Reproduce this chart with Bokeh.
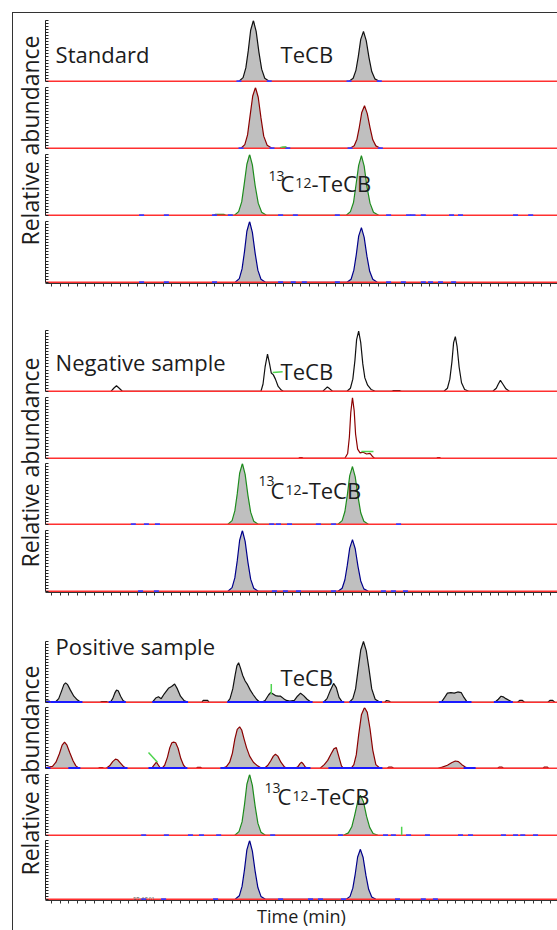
import numpy as np
from bokeh.plotting import figure
from bokeh.models import Range1d, FixedTicker, Label
from bokeh.layouts import column, row
from bokeh.embed import file_html
from bokeh.resources import INLINE

FONT = "Open Sans"
PX_PER_MIN = 34.4
T_END = 27.0

# ---------------- data (time in min, relative abundance in %) ----------------
# Standard
std1_t = [[17.74, 17.86, 17.94, 18.01, 18.08, 18.16, 18.24, 18.32, 18.40, 18.49, 18.62],
          [20.94, 21.06, 21.14, 21.21, 21.28, 21.36, 21.44, 21.52, 21.60, 21.69, 21.82]]
std1_y = [[0, 6, 22, 50, 84, 100, 82, 48, 20, 5, 0],
          [0, 5, 18, 41, 69, 82, 67, 39, 16, 4, 0]]
std1_marks = [17.74, 18.62, 20.94, 21.82]

std2_t = [[17.80, 17.91, 17.99, 18.06, 18.14, 18.22, 18.30, 18.38, 18.46, 18.56, 18.70],
          [18.92, 19.00, 19.10, 19.16],
          [20.97, 21.09, 21.17, 21.24, 21.31, 21.39, 21.47, 21.55, 21.63, 21.72, 21.85]]
std2_y = [[0, 6, 22, 52, 86, 100, 84, 50, 20, 5, 0],
          [0, 1.5, 1.5, 0],
          [0, 4, 15, 35, 59, 70, 57, 34, 14, 4, 0]]
std2_marks = [17.80, 18.70, 19.16, 20.97, 21.85]
std2_skim_t = [[18.95, 19.12]]
std2_skim_y = [[1.5, 2.5]]

std3_t = [[17.00, 17.06, 17.30, 17.36],
          [17.61, 17.73, 17.82, 17.89, 17.97, 18.05, 18.13, 18.21, 18.30, 18.40, 18.54],
          [20.86, 20.98, 21.07, 21.14, 21.22, 21.30, 21.38, 21.46, 21.55, 21.65, 21.80]]
std3_y = [[0, 1.5, 1.5, 0],
          [0, 6, 22, 50, 84, 100, 83, 49, 20, 5, 0],
          [0, 6, 21, 49, 82, 98, 81, 47, 20, 5, 0]]
std3_marks = [14.91, 15.63, 17.03, 17.49, 18.95, 19.38, 20.60, 22.09, 22.67, 22.80,
              23.10, 23.92, 24.18, 25.78, 26.22]

std4_t = [[17.63, 17.75, 17.83, 17.90, 17.97, 18.05, 18.13, 18.21, 18.29, 18.38, 18.51],
          [20.88, 21.00, 21.08, 21.15, 21.22, 21.30, 21.38, 21.46, 21.54, 21.63, 21.76]]
std4_y = [[0, 6, 22, 50, 84, 100, 82, 48, 20, 5, 0],
          [0, 5, 20, 45, 76, 90, 74, 43, 18, 5, 0]]
std4_marks = [14.91, 15.63, 17.03, 18.95, 19.32, 19.64, 20.60, 22.09, 22.52, 23.10,
              23.31, 23.60, 23.98]

# Negative sample
neg1_t = [[14.02, 14.10, 14.18, 14.26, 14.35],
          [18.38, 18.44, 18.50, 18.57, 18.63, 18.68, 18.74, 18.80, 18.88, 18.97, 19.03],
          [20.18, 20.25, 20.31, 20.38, 20.46],
          [20.88, 20.98, 21.05, 21.11, 21.16, 21.22, 21.28, 21.34, 21.40, 21.48, 21.58, 21.70],
          [22.18, 22.22, 22.42, 22.46],
          [23.70, 23.80, 23.87, 23.93, 23.98, 24.03, 24.08, 24.14, 24.21, 24.30, 24.42],
          [25.12, 25.22, 25.28, 25.34, 25.41, 25.50, 25.60]]
neg1_y = [[0, 5, 9, 5, 0],
          [0, 12, 40, 61, 45, 30, 27, 20, 8, 2, 0],
          [0, 4, 7, 4, 0],
          [0, 5, 20, 50, 85, 99, 80, 45, 22, 10, 3, 0],
          [0, 1, 1, 0],
          [0, 5, 20, 48, 80, 90, 74, 40, 14, 3, 0],
          [0, 5, 12, 18, 12, 4, 0]]
neg1_skim_t = [[18.72, 19.01]]
neg1_skim_y = [[31, 32]]

neg2_t = [[19.48, 19.50, 19.58, 19.60],
          [20.82, 20.90, 20.95, 20.99, 21.04, 21.09, 21.13, 21.19, 21.26, 21.35, 21.45, 21.55, 21.62, 21.68],
          [23.49, 23.51, 23.58, 23.60]]
neg2_y = [[0, 1, 1, 0],
          [0, 8, 35, 75, 100, 78, 40, 15, 9, 10, 7, 8, 3, 0],
          [0, 1, 1, 0]]
neg2_skim_t = [[21.30, 21.65]]
neg2_skim_y = [[11, 11]]

neg3_t = [[17.42, 17.54, 17.62, 17.69, 17.76, 17.84, 17.92, 18.00, 18.08, 18.17, 18.30],
          [20.62, 20.74, 20.82, 20.89, 20.96, 21.04, 21.12, 21.20, 21.28, 21.37, 21.50]]
neg3_y = [[0, 6, 22, 50, 84, 100, 82, 48, 20, 5, 0],
          [0, 6, 21, 48, 80, 95, 78, 46, 19, 5, 0]]
neg3_marks = [14.67, 15.05, 15.37, 18.69, 18.89, 19.21, 20.05, 20.49, 22.38]

neg4_t = [[17.42, 17.54, 17.62, 17.69, 17.76, 17.84, 17.92, 18.00, 18.08, 18.17, 18.30],
          [20.62, 20.74, 20.82, 20.89, 20.96, 21.04, 21.12, 21.20, 21.28, 21.37, 21.50]]
neg4_y = [[0, 6, 22, 50, 84, 100, 82, 48, 20, 5, 0],
          [0, 5, 19, 43, 71, 85, 70, 41, 17, 4, 0]]
neg4_marks = [14.88, 15.34, 18.77, 19.09, 19.47, 20.49, 21.94, 22.23, 22.58]

# Positive sample
pos1_t = [[12.03, 12.08, 12.22, 12.27],
          [12.40, 12.50, 12.58, 12.65, 12.70, 12.76, 12.84, 12.94, 13.04, 13.14],
          [13.70, 13.74, 13.90, 13.94],
          [14.00, 14.07, 14.13, 14.18, 14.23, 14.30, 14.37, 14.45],
          [15.22, 15.32, 15.40, 15.48, 15.57, 15.69, 15.78, 15.87, 15.95, 16.04, 16.14, 16.26],
          [16.66, 16.70, 16.83, 16.87],
          [17.40, 17.48, 17.56, 17.63, 17.68, 17.73, 17.78, 17.85, 17.92, 17.99, 18.07, 18.16, 18.25, 18.33],
          [18.40, 18.50, 18.60, 18.66, 18.72, 18.80, 18.88, 18.95, 19.04, 19.12, 19.22, 19.35, 19.44, 19.53, 19.62, 19.72, 19.82, 19.88],
          [20.20, 20.30, 20.40, 20.49, 20.57, 20.65, 20.75],
          [20.95, 21.05, 21.13, 21.20, 21.28, 21.36, 21.44, 21.52, 21.60, 21.70, 21.84],
          [21.98, 22.03, 22.10, 22.15],
          [23.62, 23.72, 23.80, 23.90, 24.00, 24.10, 24.20, 24.28, 24.38],
          [25.18, 25.28, 25.36, 25.42, 25.50, 25.60, 25.70],
          [25.84, 25.90, 25.98, 26.04],
          [26.72, 26.78, 26.86, 26.92]]
pos1_y = [[0, 2, 2, 0],
          [0, 6, 18, 29, 32, 29, 20, 10, 4, 0],
          [0, 1, 1, 0],
          [0, 6, 15, 20, 19, 10, 3, 0],
          [0, 7, 9, 6, 14, 23, 26, 30, 22, 10, 3, 0],
          [0, 3, 3, 0],
          [0, 6, 22, 45, 60, 65, 57, 44, 35, 29, 20, 12, 5, 1],
          [0, 3, 12, 16, 14, 11, 10, 10, 6, 3, 2, 3, 10, 15, 11, 5, 1, 0],
          [0, 6, 20, 31, 24, 8, 0],
          [0, 6, 22, 52, 86, 100, 85, 55, 22, 5, 0],
          [0, 3, 2, 0],
          [0, 8, 15, 16, 15, 17, 16, 8, 0],
          [0, 5, 10, 9, 6, 3, 0],
          [0, 3, 3, 0],
          [0, 3, 3, 0]]
pos1_int_start = [12.12, 12.26, 13.95, 15.22, 17.40, 18.33, 20.18, 20.95, 23.55, 25.15]
pos1_int_end = [12.26, 13.19, 14.45, 16.26, 18.33, 19.88, 20.80, 21.90, 24.50, 25.70]
pos1_skim_t = [[18.68, 18.68]]
pos1_skim_y = [[13, 30]]

pos2_t = [[12.05, 12.20, 12.32, 12.42, 12.52, 12.60, 12.67, 12.74, 12.82, 12.92, 13.00, 13.09],
          [13.64, 13.68, 13.78, 13.82],
          [13.88, 13.98, 14.07, 14.15, 14.21, 14.29, 14.38, 14.47],
          [15.20, 15.27, 15.34, 15.40, 15.46],
          [15.50, 15.58, 15.66, 15.73, 15.79, 15.84, 15.90, 15.97, 16.05, 16.13, 16.21],
          [16.50, 16.54, 16.62, 16.66],
          [17.26, 17.38, 17.47, 17.55, 17.62, 17.69, 17.76, 17.82, 17.89, 17.96, 18.05, 18.16, 18.28, 18.40],
          [18.48, 18.58, 18.66, 18.74, 18.80, 18.87, 18.96, 19.05, 19.12],
          [19.38, 19.46, 19.52, 19.56, 19.61, 19.67, 19.74],
          [20.10, 20.22, 20.32, 20.42, 20.50, 20.57, 20.64, 20.72, 20.78],
          [21.00, 21.08, 21.15, 21.22, 21.30, 21.39, 21.47, 21.55, 21.63, 21.72, 21.84],
          [22.05, 22.10, 22.18, 22.24],
          [23.52, 23.65, 23.80, 23.92, 24.03, 24.12, 24.22, 24.32, 24.40],
          [25.26, 25.31, 25.38, 25.43],
          [26.58, 26.62, 26.70, 26.74]]
pos2_y = [[0, 2, 3, 10, 24, 38, 43, 38, 26, 12, 4, 0],
          [0, 1, 1, 0],
          [0, 4, 11, 15, 14, 9, 3, 0],
          [0, 5, 10, 5, 0],
          [0, 5, 18, 34, 42, 43, 42, 33, 16, 5, 0],
          [0, 1.5, 1.5, 0],
          [0, 3, 10, 25, 48, 64, 68, 63, 48, 34, 20, 10, 4, 0],
          [0, 5, 12, 20, 23, 20, 10, 3, 0],
          [0, 3, 8, 10, 7, 2, 0],
          [0, 6, 13, 24, 32, 34, 20, 4, 0],
          [0, 6, 22, 55, 88, 100, 92, 65, 30, 6, 0],
          [0, 2, 2, 0],
          [0, 2, 5, 9, 12, 11, 6, 2, 0],
          [0, 2, 2, 0],
          [0, 2, 2, 0]]
pos2_int_start = [12.12, 12.78, 13.92, 15.11, 17.20, 20.34, 24.27]
pos2_int_end = [12.26, 13.13, 14.50, 16.24, 19.82, 21.91, 24.62]
pos2_skim_t = [[15.11, 15.37]]
pos2_skim_y = [[26, 10]]

pos3_t = [[17.62, 17.74, 17.83, 17.90, 17.97, 18.05, 18.13, 18.21, 18.29, 18.38, 18.51],
          [20.78, 20.92, 21.02, 21.10, 21.19, 21.27, 21.36, 21.45, 21.54, 21.64, 21.78]]
pos3_y = [[0, 6, 22, 50, 84, 100, 82, 48, 20, 5, 0],
          [0, 4, 14, 32, 55, 66, 55, 31, 13, 3, 0]]
pos3_marks = [14.97, 15.63, 16.33, 16.65, 17.15, 18.72, 20.69, 22.00, 22.23, 22.67,
              23.22, 24.18, 24.47, 25.43, 25.78, 25.99, 26.36]
pos3_skim_t = [[22.47, 22.47]]
pos3_skim_y = [[0, 14]]

pos4_t = [[17.63, 17.75, 17.83, 17.90, 17.97, 18.05, 18.13, 18.21, 18.29, 18.38, 18.51],
          [20.86, 20.97, 21.05, 21.12, 21.19, 21.27, 21.35, 21.43, 21.51, 21.60, 21.72]]
pos4_y = [[0, 6, 22, 50, 84, 100, 82, 48, 20, 5, 0],
          [0, 5, 19, 43, 72, 85, 71, 41, 17, 4, 0]]
pos4_marks = [14.97, 15.55, 17.06, 18.95, 19.82, 20.11, 20.78, 22.35, 23.10, 23.45]

group_titles = ["Standard", "Negative sample", "Positive sample"]
y_label = "Relative abundance"
x_label = "Time (min)"

# ---------------- styling / layout ----------------
TRACE_COLORS = ["#111111", "#8b0000", "#1e8c1e", "#00008b"]
FILL = "#bfbfbf"
BASE_RED = "#ff3030"
MARK_BLUE = "#3a3aff"
INT_BLUE = "#1a1aff"
SKIM_GREEN = "#4fd44f"
TEXT = "#1c1c1c"
FRAME_H = 62
UNITS_PER_PX = 102.0 / FRAME_H
STRIP_W = 32
TRACE_W = 512
T_START = T_END - TRACE_W / PX_PER_MIN


def flat(parts):
    return [v for part in parts for v in part]


def add_text(p, x, y, text, size="22px", align="left", baseline="alphabetic", color=TEXT):
    p.add_layout(Label(x=x, y=y, text=text, text_font=FONT, text_font_size=size,
                       text_color=color, text_align=align, text_baseline=baseline))


def make_trace(t, y, color, filled, top, bottom, xaxis, marks=None, skim=None, ints=None,
               extra_top=0):
    frame_h = FRAME_H + extra_top
    y_end = -2 + frame_h * UNITS_PER_PX
    p = figure(width=TRACE_W, height=top + frame_h + bottom, title=None,
               x_range=Range1d(T_START, T_END), y_range=Range1d(-2, y_end),
               min_border_left=0, min_border_right=0,
               min_border_top=top, min_border_bottom=bottom,
               x_axis_location="below" if xaxis else None, y_axis_location="left",
               output_backend="svg", toolbar_location=None)
    p.outline_line_color = None
    p.grid.visible = False
    p.background_fill_color = "white"
    p.border_fill_color = "white"

    yax = p.yaxis[0]
    yax.ticker = FixedTicker(ticks=[], minor_ticks=list(range(0, 101, 5)))
    yax.bounds = (0, 100)
    yax.major_label_standoff = 0
    yax.major_tick_out = 0
    yax.major_tick_in = 0
    yax.minor_tick_out = 0
    yax.minor_tick_in = 3
    yax.axis_line_color = "#222222"
    yax.minor_tick_line_color = "#222222"

    if xaxis:
        xax = p.xaxis[0]
        xax.ticker = FixedTicker(ticks=[], minor_ticks=list(np.arange(12.04, T_END, 0.25)))
        xax.major_label_standoff = 0
        xax.major_tick_out = 0
        xax.minor_tick_out = 3
        xax.minor_tick_in = 0
        xax.axis_line_color = "#333333"
        xax.minor_tick_line_color = "#333333"

    tt, yy = flat(t), flat(y)
    if filled:
        p.varea(x=tt, y1=0, y2=yy, fill_color=FILL, fill_alpha=1.0)
    p.line(tt, yy, line_color=color, line_width=1.2)
    p.hspan(y=[0], line_color=BASE_RED, line_width=1.8)
    if ints is not None:
        p.segment(x0=ints[0], y0=0, x1=ints[1], y1=0, line_color=INT_BLUE, line_width=2.5)
    if marks is not None:
        p.scatter(x=marks, y=0, marker="dash", size=5, line_color=MARK_BLUE, line_width=2)
    if skim is not None:
        p.multi_line(xs=skim[0], ys=skim[1], line_color=SKIM_GREEN, line_width=1.5)
    return p


def make_strip(h, yc):
    s = figure(width=STRIP_W, height=h, title=None, x_range=Range1d(0, STRIP_W),
               y_range=Range1d(0, h), min_border=0, x_axis_location=None,
               y_axis_location=None, output_backend="svg", toolbar_location=None)
    s.outline_line_color = None
    s.grid.visible = False
    s.background_fill_color = "white"
    s.border_fill_color = "white"
    s.add_layout(Label(x=16, y=yc, text=y_label, angle=90, angle_units="deg",
                       text_align="center", text_baseline="middle", text_font=FONT,
                       text_font_size="23px", text_color=TEXT))
    return s


def add_ic(p, x13, xC, x12, xT, y13, yC):
    add_text(p, x13, y13, "13", size="14px")
    add_text(p, xC, yC, "C")
    add_text(p, x12, yC, "12", size="14px")
    add_text(p, xT, yC, "-TeCB")


C = TRACE_COLORS
# Standard group
s1 = make_trace(std1_t, std1_y, C[0], True, 7, 0, False, marks=std1_marks)
add_text(s1, 12.41, 44.1, group_titles[0])
add_text(s1, 18.95, 44.1, "TeCB")
s2 = make_trace(std2_t, std2_y, C[1], True, 5, 0, False, marks=std2_marks,
                skim=(std2_skim_t, std2_skim_y))
s3 = make_trace(std3_t, std3_y, C[2], True, 5, 0, False, marks=std3_marks)
add_ic(s3, 18.60, 18.95, 19.38, 19.85, 65.4, 52.3)
s4 = make_trace(std4_t, std4_y, C[3], True, 5, 8, True, marks=std4_marks)
g1 = row(make_strip(278, 151), column(s1, s2, s3, s4))

# Negative group
n1 = make_trace(neg1_t, neg1_y, C[0], False, 39, 0, False, skim=(neg1_skim_t, neg1_skim_y))
add_text(n1, 12.41, 49.0, group_titles[1])
add_text(n1, 18.95, 33.4, "TeCB")
n2 = make_trace(neg2_t, neg2_y, C[1], False, 5, 0, False, skim=(neg2_skim_t, neg2_skim_y))
n3 = make_trace(neg3_t, neg3_y, C[2], True, 4, 0, False, marks=neg3_marks)
add_ic(n3, 18.31, 18.66, 19.09, 19.56, 70.4, 57.2)
n4 = make_trace(neg4_t, neg4_y, C[3], True, 5, 8, True, marks=neg4_marks)
g2 = row(make_strip(309, 138), column(n1, n2, n3, n4))

# Positive group
p1 = make_trace(pos1_t, pos1_y, C[0], True, 2, 0, False, extra_top=39,
                ints=(pos1_int_start, pos1_int_end), skim=(pos1_skim_t, pos1_skim_y))
add_text(p1, 12.41, 93.4, group_titles[2])
add_text(p1, 18.95, 40.8, "TeCB")
p2 = make_trace(pos2_t, pos2_y, C[1], True, 4, 0, False,
                ints=(pos2_int_start, pos2_int_end), skim=(pos2_skim_t, pos2_skim_y))
p3 = make_trace(pos3_t, pos3_y, C[2], True, 5, 0, False, marks=pos3_marks,
                skim=(pos3_skim_t, pos3_skim_y))
add_ic(p3, 18.48, 18.86, 19.30, 19.80, 78.6, 65.4)
p4 = make_trace(pos4_t, pos4_y, C[3], True, 4, 28, True, marks=pos4_marks)
add_text(p4, 14.67, 1.3, "RT: 17.01", size="5px", color="#555555")
xa = p4.xaxis[0]
xa.axis_label = x_label
xa.axis_label_text_font = FONT
xa.axis_label_text_font_size = "18px"
xa.axis_label_text_font_style = "normal"
xa.axis_label_text_color = TEXT
xa.axis_label_standoff = 0
g3 = row(make_strip(330, 160), column(p1, p2, p3, p4))

layout = column(g1, g2, g3, margin=(12, 0, 0, 12),
                styles={"border-left": "1px solid #333333", "border-top": "1px solid #333333"})

open("out.html", "w").write(file_html(layout, INLINE))
